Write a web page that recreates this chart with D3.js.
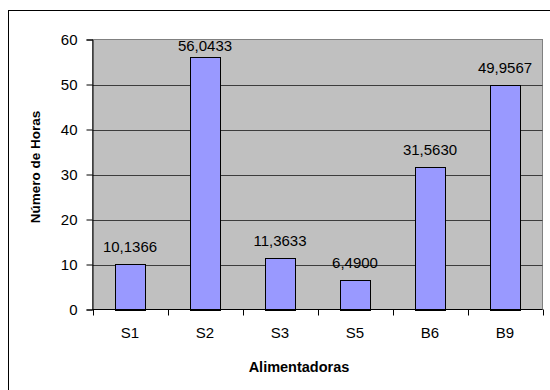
<!DOCTYPE html>
<html>
<head>
<meta charset="utf-8">
<script src="https://cdn.jsdelivr.net/npm/d3@7"></script>
<style>
  html, body { margin: 0; padding: 0; background: #fff; }
  svg { display: block; font-family: "Liberation Sans", Arial, sans-serif; }
</style>
</head>
<body>
<svg id="chart" width="550" height="390"></svg>
<script>
// Hours per feeder
const categories = ["S1", "S2", "S3", "S5", "B6", "B9"];
const hours = [10.1366, 56.0433, 11.3633, 6.4900, 31.5630, 49.9567];
const yTicks = [0, 10, 20, 30, 40, 50, 60];
const xTitle = "Alimentadoras";
const yTitle = "Número de Horas";

const svg = d3.select("#chart");
const plot = { left: 92.5, right: 542.5, top: 39.5, bottom: 309.5 };

const fmt = d3.formatLocale({ decimal: ",", thousands: ".", grouping: [3], currency: ["", ""] }).format(".4f");

// Chart frame
svg.append("rect")
  .attr("x", 8.5).attr("y", 10.5)
  .attr("width", 600).attr("height", 400)
  .attr("fill", "#fff").attr("stroke", "#000").attr("stroke-width", 1);

const x = d3.scaleBand().domain(categories).range([plot.left, plot.right]).padding(0);
const xBar = d3.scaleBand().domain(categories).range([plot.left, plot.right])
  .paddingInner(0.6).paddingOuter(0.3);
const y = d3.scaleLinear().domain([0, 60]).range([plot.bottom, plot.top]);

// Plot area
svg.append("rect")
  .attr("x", plot.left).attr("y", plot.top)
  .attr("width", plot.right - plot.left).attr("height", plot.bottom - plot.top)
  .attr("fill", "#c0c0c0").attr("stroke", "#808080").attr("stroke-width", 1);

// Gridlines
svg.append("g").selectAll("line")
  .data(yTicks.filter(t => t > 0 && t < 60))
  .join("line")
  .attr("x1", plot.left).attr("x2", plot.right)
  .attr("y1", d => Math.round(y(d)) + 0.5).attr("y2", d => Math.round(y(d)) + 0.5)
  .attr("stroke", "#3c3c3c").attr("stroke-width", 1);

// Bars
svg.append("g").selectAll("rect")
  .data(categories.map((c, i) => ({ c, v: hours[i] })))
  .join("rect")
  .attr("x", d => Math.round(xBar(d.c)) + 0.5)
  .attr("y", d => Math.round(y(d.v)) + 0.5)
  .attr("width", Math.round(xBar.bandwidth()))
  .attr("height", d => Math.round(y(0)) - Math.round(y(d.v)))
  .attr("fill", "#9999ff").attr("stroke", "#000").attr("stroke-width", 1);

// Value labels, kept inside the plot area
svg.append("g").selectAll("text")
  .data(categories.map((c, i) => ({ c, v: hours[i] })))
  .join("text")
  .attr("x", d => x(d.c) + x.bandwidth() / 2)
  .attr("y", d => Math.max(y(d.v) - 12, plot.top + 11))
  .attr("text-anchor", "middle")
  .attr("font-size", 15)
  .attr("fill", "#000")
  .text(d => fmt(d.v));

// Y axis
const yAxis = svg.append("g")
  .attr("transform", `translate(${plot.left},0)`)
  .call(d3.axisLeft(y).tickValues(yTicks).tickSize(6).tickPadding(9).tickFormat(d3.format("d")));
yAxis.select(".domain").attr("stroke", "#000");
yAxis.selectAll(".tick line").attr("stroke", "#000");
yAxis.selectAll("text").attr("font-size", 15).attr("fill", "#000")
  .attr("font-family", "Liberation Sans, Arial, sans-serif");

// X axis: labels centred in each category, ticks on category boundaries
const xAxis = svg.append("g")
  .attr("transform", `translate(0,${plot.bottom})`)
  .call(d3.axisBottom(x).tickSize(0).tickPadding(18));
xAxis.select(".domain").remove();
xAxis.selectAll("text").attr("font-size", 15).attr("fill", "#000")
  .attr("font-family", "Liberation Sans, Arial, sans-serif");

const boundaries = categories.map(c => x(c)).concat([x(categories[categories.length - 1]) + x.bandwidth()]);
svg.append("line")
  .attr("x1", plot.left).attr("x2", plot.right)
  .attr("y1", plot.bottom).attr("y2", plot.bottom)
  .attr("stroke", "#000");
svg.append("g").selectAll("line")
  .data(boundaries)
  .join("line")
  .attr("x1", d => Math.round(d) + 0.5).attr("x2", d => Math.round(d) + 0.5)
  .attr("y1", plot.bottom).attr("y2", plot.bottom + 6)
  .attr("stroke", "#000");

// Axis titles
svg.append("text")
  .attr("x", 299).attr("y", 372)
  .attr("text-anchor", "middle")
  .attr("font-size", 14.5).attr("font-weight", "bold")
  .text(xTitle);

svg.append("text")
  .attr("transform", "translate(40,167) rotate(-90)")
  .attr("text-anchor", "middle")
  .attr("font-size", 13.5).attr("font-weight", "bold")
  .text(yTitle);
</script>
</body>
</html>
